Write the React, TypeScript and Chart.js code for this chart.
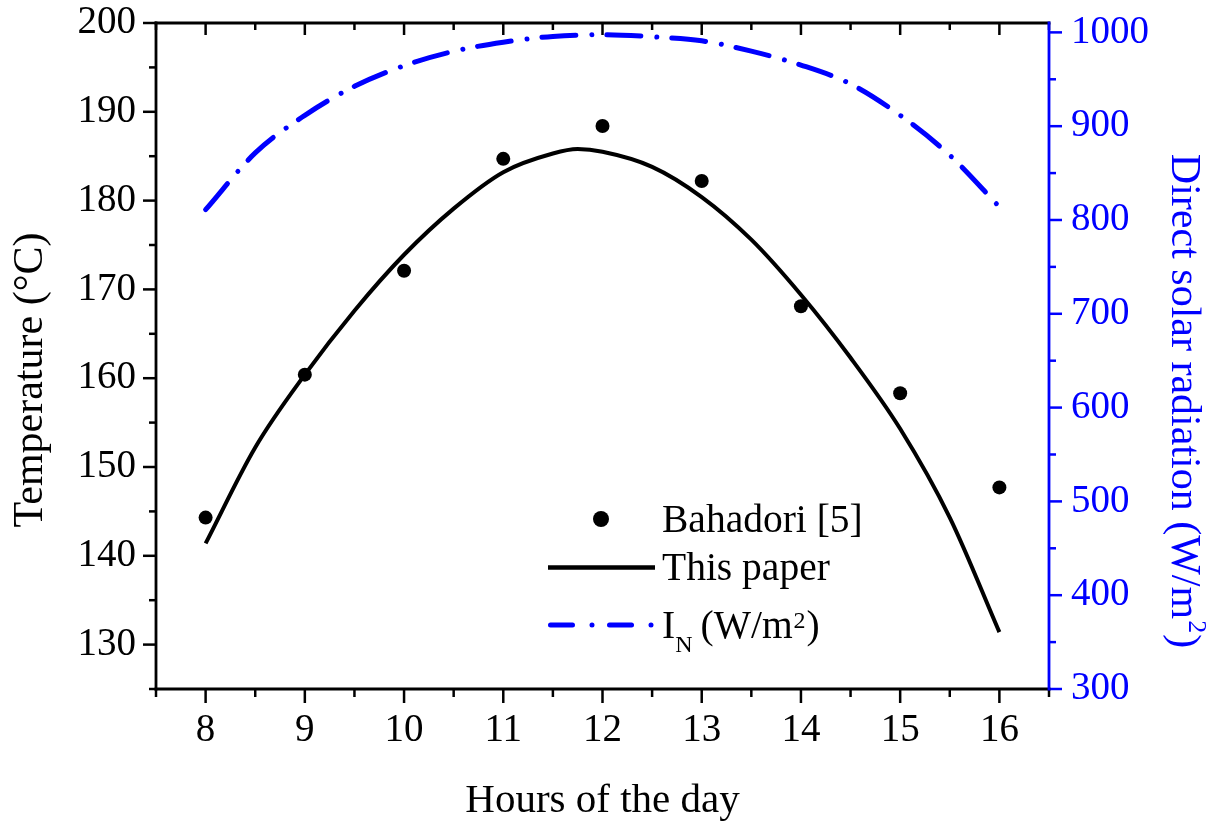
import React, { useEffect, useRef } from 'react';
import { Chart, registerables } from 'chart.js';

Chart.register(...registerables);

// ---- data ----
const hours = [8, 9, 10, 11, 12, 13, 14, 15, 16];
const bahadoriTemp = [144.3, 160.4, 172.1, 184.7, 188.4, 182.2, 168.1, 158.3, 147.7];

const modelHours = [8, 8.5, 9, 9.5, 10, 10.5, 11, 11.5, 11.75, 12, 12.5, 13, 13.5, 14, 14.5, 15, 15.5, 16];
const modelTemp = [141.4, 152.2, 160.4, 167.6, 173.9, 179.1, 183.2, 185.3, 185.8, 185.5, 183.8, 180.4, 175.6, 169.4, 162.3, 154.3, 144.3, 131.4];

const radHours = [8, 8.5, 9, 9.5, 10, 10.5, 11, 11.5, 12, 12.5, 13, 13.5, 14, 14.5, 15, 15.5, 16];
const radiation = [811, 871.5, 911.6, 942.5, 964.5, 979.8, 989.5, 995.7, 997.5, 995.3, 991, 980, 965.2, 945, 911.6, 869, 814];

const xTickValues = [8, 9, 10, 11, 12, 13, 14, 15, 16];
const tempTickValues = [130, 140, 150, 160, 170, 180, 190, 200];
const radTickValues = [300, 400, 500, 600, 700, 800, 900, 1000];

const FONT = '"Liberation Serif", "Times New Roman", serif';
const BLUE = '#0000ff';
const DASH = [34, 16, 0.01, 15];
const LEGEND_DASH = [22, 19.5, 0.01, 17.5];

const decoPlugin = {
  id: 'deco',
  afterDraw(chart: any) {
    const { ctx, chartArea: a, scales } = chart;
    const xs = scales.x;
    const yl = scales.y;
    const yr = scales.y1;
    ctx.save();
    const seg = (x1: number, y1: number, x2: number, y2: number) => {
      ctx.beginPath();
      ctx.moveTo(x1, y1);
      ctx.lineTo(x2, y2);
      ctx.stroke();
    };
    ctx.lineCap = 'butt';
    ctx.lineWidth = 2.5;
    ctx.strokeStyle = '#000';
    // x ticks (bottom outward, top inward)
    const xMinor = xTickValues.map((v) => v - 0.5).concat([xTickValues[xTickValues.length - 1] + 0.5]);
    for (const v of xTickValues) {
      const p = xs.getPixelForValue(v);
      seg(p, a.bottom, p, a.bottom + 14);
      seg(p, a.top, p, a.top + 12);
    }
    for (const v of xMinor) {
      const p = xs.getPixelForValue(v);
      seg(p, a.bottom, p, a.bottom + 8);
      seg(p, a.top, p, a.top + 7);
    }
    // left ticks
    const tMinor = tempTickValues.map((v) => v - 5);
    for (const v of tempTickValues) {
      const p = yl.getPixelForValue(v);
      seg(a.left, p, a.left - 13, p);
    }
    for (const v of tMinor) {
      const p = yl.getPixelForValue(v);
      seg(a.left, p, a.left - 7, p);
    }
    // right ticks (blue)
    ctx.strokeStyle = BLUE;
    const rMinor = radTickValues.map((v) => v + 50).filter((v) => v <= yr.max);
    for (const v of radTickValues) {
      const p = yr.getPixelForValue(v);
      seg(a.right, p, a.right + 13, p);
    }
    for (const v of rMinor) {
      const p = yr.getPixelForValue(v);
      seg(a.right, p, a.right + 7, p);
    }
    // frame
    ctx.lineWidth = 2.8;
    ctx.lineCap = 'square';
    ctx.strokeStyle = '#000';
    seg(a.left, a.top, a.right, a.top);
    seg(a.left, a.bottom, a.right, a.bottom);
    seg(a.left, a.top, a.left, a.bottom);
    ctx.strokeStyle = BLUE;
    seg(a.right, a.top, a.right, a.bottom);

    // axis titles
    ctx.fillStyle = '#000';
    ctx.textBaseline = 'alphabetic';
    ctx.font = `41px ${FONT}`;
    ctx.textAlign = 'center';
    ctx.fillText('Hours of the day', (a.left + a.right) / 2, 812);

    ctx.save();
    ctx.translate(28, 380);
    ctx.rotate(-Math.PI / 2);
    ctx.font = `42px ${FONT}`;
    ctx.textAlign = 'center';
    ctx.fillText('Temperature (\u00B0C)', 0, 14);
    ctx.restore();

    ctx.save();
    ctx.translate(1186, 401);
    ctx.rotate(Math.PI / 2);
    ctx.fillStyle = BLUE;
    ctx.textAlign = 'left';
    const big = `42px ${FONT}`;
    const small = `26px ${FONT}`;
    const t1 = 'Direct solar radiation (W/m';
    const t2 = '2';
    const t3 = ')';
    ctx.font = big;
    const w1 = ctx.measureText(t1).width;
    const w3 = ctx.measureText(t3).width;
    ctx.font = small;
    const w2 = ctx.measureText(t2).width;
    let x0 = -(w1 + w2 + w3 + 2) / 2;
    ctx.font = big;
    ctx.fillText(t1, x0, 14);
    x0 += w1 + 1;
    ctx.font = small;
    ctx.fillText(t2, x0, -3);
    x0 += w2 + 1;
    ctx.font = big;
    ctx.fillText(t3, x0, 14);
    ctx.restore();

    // legend
    const lf = `39.5px ${FONT}`;
    const lfs = `24px ${FONT}`;
    ctx.textAlign = 'left';
    ctx.fillStyle = '#000';
    ctx.beginPath();
    ctx.arc(601, 519, 8, 0, Math.PI * 2);
    ctx.fill();
    ctx.font = lf;
    ctx.fillText('Bahadori [5]', 662, 532);

    ctx.lineCap = 'butt';
    ctx.lineWidth = 4.5;
    ctx.strokeStyle = '#000';
    seg(548, 567.5, 655, 567.5);
    ctx.fillText('This paper', 662, 580);

    ctx.strokeStyle = BLUE;
    ctx.lineWidth = 5;
    ctx.lineCap = 'round';
    ctx.setLineDash(LEGEND_DASH);
    seg(550.5, 625, 652, 625);
    ctx.setLineDash([]);
    ctx.fillStyle = '#000';
    let lx = 662;
    ctx.font = lf;
    ctx.fillText('I', lx, 638);
    lx += ctx.measureText('I').width;
    ctx.font = lfs;
    ctx.fillText('N', lx, 652);
    lx += ctx.measureText('N').width + 8;
    ctx.font = lf;
    ctx.fillText('(W/m', lx, 638);
    lx += ctx.measureText('(W/m').width + 1;
    ctx.font = lfs;
    ctx.fillText('2', lx, 628);
    lx += ctx.measureText('2').width + 1;
    ctx.font = lf;
    ctx.fillText(')', lx, 638);
    ctx.restore();
  },
};

export default function App() {
  const ref = useRef<HTMLCanvasElement>(null);
  useEffect(() => {
    const tickFont = { family: FONT, size: 39, lineHeight: 1 };
    const chart = new Chart(ref.current as HTMLCanvasElement, {
      type: 'line',
      data: {
        datasets: [
          {
            label: 'Bahadori [5]',
            data: hours.map((h, i) => ({ x: h, y: bahadoriTemp[i] })),
            showLine: false,
            pointRadius: 7,
            pointBackgroundColor: '#000',
            pointBorderWidth: 0,
            borderColor: '#000',
            yAxisID: 'y',
          },
          {
            label: 'This paper',
            data: modelHours.map((h, i) => ({ x: h, y: modelTemp[i] })),
            borderColor: '#000',
            borderWidth: 4,
            pointRadius: 0,
            cubicInterpolationMode: 'monotone',
            fill: false,
            yAxisID: 'y',
          },
          {
            label: 'I_N (W/m2)',
            data: radHours.map((h, i) => ({ x: h, y: radiation[i] })),
            borderColor: BLUE,
            borderWidth: 5,
            borderDash: DASH,
            borderCapStyle: 'round',
            pointRadius: 0,
            cubicInterpolationMode: 'monotone',
            fill: false,
            yAxisID: 'y1',
          },
        ],
      },
      options: {
        responsive: false,
        animation: false,
        devicePixelRatio: 1,
        events: [],
        layout: { padding: { top: 23, left: 0, right: 0, bottom: 0 } },
        plugins: { legend: { display: false }, tooltip: { enabled: false }, title: { display: false } },
        scales: {
          x: {
            type: 'linear',
            position: 'bottom',
            min: 7.5,
            max: 16.5,
            grid: { display: false, drawTicks: false },
            border: { display: false },
            ticks: { font: tickFont, color: '#000', padding: 22, callback: (v: any) => String(v), maxRotation: 0 },
            afterBuildTicks: (s: any) => {
              s.ticks = xTickValues.map((v) => ({ value: v }));
            },
            afterFit: (s: any) => {
              s.height = 134;
              s.paddingLeft = 0;
              s.paddingRight = 0;
            },
          },
          y: {
            type: 'linear',
            position: 'left',
            min: 125,
            max: 200,
            grid: { display: false, drawTicks: false },
            border: { display: false },
            ticks: { font: tickFont, color: '#000', padding: 20, callback: (v: any) => String(v) },
            afterBuildTicks: (s: any) => {
              s.ticks = tempTickValues.map((v) => ({ value: v }));
            },
            afterFit: (s: any) => {
              s.width = 156;
              s.paddingTop = 0;
              s.paddingBottom = 0;
            },
          },
          y1: {
            type: 'linear',
            position: 'right',
            min: 300,
            max: 1010,
            grid: { display: false, drawTicks: false },
            border: { display: false },
            ticks: { font: tickFont, color: BLUE, padding: 22, callback: (v: any) => String(v) },
            afterBuildTicks: (s: any) => {
              s.ticks = radTickValues.map((v) => ({ value: v }));
            },
            afterFit: (s: any) => {
              s.width = 183;
              s.paddingTop = 0;
              s.paddingBottom = 0;
            },
          },
        },
      } as any,
      plugins: [decoPlugin],
    });
    return () => chart.destroy();
  }, []);
  return (
    <div style={{ position: 'absolute', left: 0, top: 0, width: 1232, height: 823, background: '#fff' }}>
      <canvas ref={ref} width={1232} height={823} style={{ display: 'block', width: 1232, height: 823 }} />
    </div>
  );
}
